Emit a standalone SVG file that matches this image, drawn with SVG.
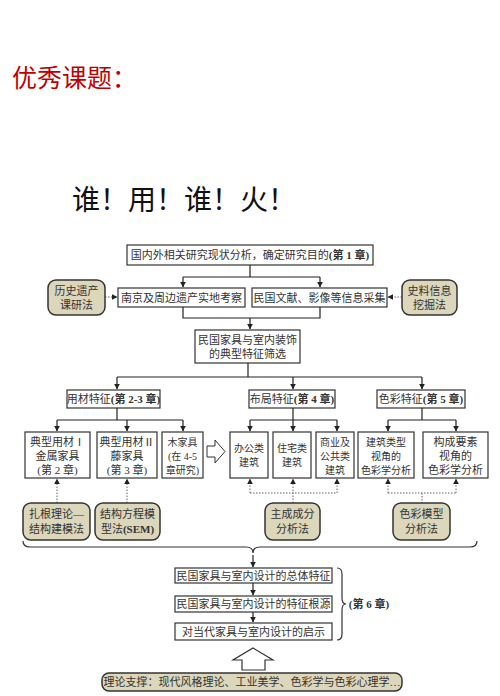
<svg xmlns="http://www.w3.org/2000/svg" width="500" height="696" viewBox="0 0 500 696">
<defs>
<marker id="ah" viewBox="0 0 10 10" refX="9" refY="5" markerWidth="6" markerHeight="6" orient="auto-start-reverse" markerUnits="userSpaceOnUse">
<path d="M0,0 L10,5 L0,10 z" fill="#222"/>
</marker>
<style>
.box{fill:#fff;stroke:#333;stroke-width:1.2}
.rb{fill:#dcd6bb;stroke:#333;stroke-width:1.5}
.ln{fill:none;stroke:#222;stroke-width:1.2}
.dt{fill:none;stroke:#666;stroke-width:1;stroke-dasharray:1.5 1.5}
.t{font-family:"Liberation Serif","Noto Sans CJK SC",serif;font-size:11px;fill:#333;text-anchor:middle}
.s{font-size:10px}
.b{font-weight:bold}
</style>
</defs>
<rect width="500" height="696" fill="#fff"/>
<text x="12" y="87" style="font-family:'Noto Sans CJK SC',sans-serif;font-size:25px;fill:#c00000">优秀课题：</text>
<text x="72" y="210" style="font-family:'Noto Sans CJK SC',sans-serif;font-size:28px;fill:#111">谁！用！谁！火！</text>

<g id="connectors">
<path class="ln" d="M250,265 V277 M183,277 H320" />
<path class="ln" d="M183,277 V287" marker-end="url(#ah)"/>
<path class="ln" d="M320,277 V287" marker-end="url(#ah)"/>
<path class="ln" d="M183,307 V318 H320 V307 M250,318 V329" marker-end="url(#ah)"/>
<path class="dt" d="M105,297 H117" marker-end="url(#ah)"/>
<path class="dt" d="M402,297 H388" marker-end="url(#ah)"/>
<path class="ln" d="M248,363 V377 M117,377 H422"/>
<path class="ln" d="M117,377 V389" marker-end="url(#ah)"/>
<path class="ln" d="M293,377 V389" marker-end="url(#ah)"/>
<path class="ln" d="M422,377 V389" marker-end="url(#ah)"/>
<path class="ln" d="M117,408 V420 M57,420 H183"/>
<path class="ln" d="M57,420 V431" marker-end="url(#ah)"/>
<path class="ln" d="M127,420 V431" marker-end="url(#ah)"/>
<path class="ln" d="M183,420 V431" marker-end="url(#ah)"/>
<path class="ln" d="M293,408 V420 M250,420 H337"/>
<path class="ln" d="M250,420 V431" marker-end="url(#ah)"/>
<path class="ln" d="M293,420 V431" marker-end="url(#ah)"/>
<path class="ln" d="M337,420 V431" marker-end="url(#ah)"/>
<path class="ln" d="M422,408 V420 M388,420 H456"/>
<path class="ln" d="M388,420 V431" marker-end="url(#ah)"/>
<path class="ln" d="M456,420 V431" marker-end="url(#ah)"/>
<path d="M207,446 H215 V440 L225,451.5 L215,463 V457 H207 Z" fill="#fff" stroke="#333" stroke-width="1"/>
<path class="dt" d="M57,503 V479" marker-end="url(#ah)"/>
<path class="dt" d="M127,503 V479" marker-end="url(#ah)"/>
<path class="dt" d="M250,493 V479" marker-end="url(#ah)"/>
<path class="dt" d="M293,503 V479" marker-end="url(#ah)"/>
<path class="dt" d="M337,493 V479" marker-end="url(#ah)"/>
<path class="dt" d="M250,493 H337"/>
<path class="dt" d="M388,493 V479" marker-end="url(#ah)"/>
<path class="dt" d="M456,493 V479" marker-end="url(#ah)"/>
<path class="dt" d="M388,493 H456 M422,493 V503"/>
<path d="M23,541 Q23,547 30,547 H246 Q253,547 253,553 Q253,547 260,547 H470 Q477,547 477,541" fill="none" stroke="#333" stroke-width="1.2"/>
<path class="ln" d="M253,555 V567" marker-end="url(#ah)"/>
<path class="ln" d="M253,583 V595" marker-end="url(#ah)"/>
<path class="ln" d="M253,612 V622" marker-end="url(#ah)"/>
<path d="M337,568 Q342,568 342,574 V598 Q342,604 346,604 Q342,604 342,610 V634 Q342,640 337,640" fill="none" stroke="#333" stroke-width="1.2"/>
<path d="M253,648 L273,660 H265 V670 H242 V660 H233 Z" fill="#fff" stroke="#333" stroke-width="1.2"/>
</g>

<g id="n-top"><rect class="box" x="127" y="245" width="246" height="20"/><text class="t" x="250" y="259">国内外相关研究现状分析，确定研究目的<tspan class="b">(第 1 章)</tspan></text></g>
<g id="n-survey"><rect class="box" x="118" y="288" width="127" height="19"/><text class="t" x="181.5" y="301.5">南京及周边遗产实地考察</text></g>
<g id="n-doc"><rect class="box" x="252" y="288" width="135" height="19"/><text class="t" x="319.5" y="301.5">民国文献、影像等信息采集</text></g>
<g id="m-hist"><rect class="rb" x="48" y="280" width="57" height="35" rx="8"/><text class="t" x="76.5" y="295">历史遗产</text><text class="t" x="76.5" y="309">课研法</text></g>
<g id="m-arch"><rect class="rb" x="402" y="280" width="55" height="35" rx="8"/><text class="t" x="429.5" y="295">史料信息</text><text class="t" x="429.5" y="309">挖掘法</text></g>
<g id="n-screen"><rect class="box" x="195" y="330" width="105" height="33"/><text class="t" x="247.5" y="344">民国家具与室内装饰</text><text class="t" x="247.5" y="358">的典型特征筛选</text></g>

<g id="n-mat"><rect class="box" x="67" y="390" width="93" height="18"/><text class="t" x="113.5" y="403">用材特征<tspan class="b">(第 2-3 章)</tspan></text></g>
<g id="n-lay"><rect class="box" x="249" y="390" width="86" height="18"/><text class="t" x="292" y="403">布局特征<tspan class="b">(第 4 章)</tspan></text></g>
<g id="n-col"><rect class="box" x="377" y="390" width="88" height="18"/><text class="t" x="421" y="403">色彩特征<tspan class="b">(第 5 章)</tspan></text></g>

<g id="n-m1"><rect class="box" x="25" y="432" width="65" height="46"/><text class="t" x="57.5" y="446">典型用材Ⅰ</text><text class="t" x="57.5" y="460">金属家具</text><text class="t" x="57.5" y="474">(第 2 章)</text></g>
<g id="n-m2"><rect class="box" x="97" y="432" width="60" height="46"/><text class="t" x="127" y="446">典型用材Ⅱ</text><text class="t" x="127" y="460">藤家具</text><text class="t" x="127" y="474">(第 3 章)</text></g>
<g id="n-m3"><rect class="box" x="162" y="432" width="41" height="46"/><text class="t s" x="182.5" y="446">木家具</text><text class="t s" x="182.5" y="460">(在 4-5</text><text class="t s" x="182.5" y="474">章研究)</text></g>
<g id="n-l1"><rect class="box" x="230" y="432" width="38" height="46"/><text class="t s" x="249" y="452">办公类</text><text class="t s" x="249" y="466">建筑</text></g>
<g id="n-l2"><rect class="box" x="273" y="432" width="38" height="46"/><text class="t s" x="292" y="452">住宅类</text><text class="t s" x="292" y="466">建筑</text></g>
<g id="n-l3"><rect class="box" x="316" y="432" width="38" height="46"/><text class="t s" x="335" y="446">商业及</text><text class="t s" x="335" y="460">公共类</text><text class="t s" x="335" y="474">建筑</text></g>
<g id="n-c1"><rect class="box" x="358" y="432" width="56" height="46"/><text class="t s" x="386" y="446">建筑类型</text><text class="t s" x="386" y="460">视角的</text><text class="t s" x="386" y="474">色彩学分析</text></g>
<g id="n-c2"><rect class="box" x="423" y="432" width="65" height="46"/><text class="t" x="455.5" y="446">构成要素</text><text class="t" x="455.5" y="460">视角的</text><text class="t" x="455.5" y="474">色彩学分析</text></g>

<g id="m-grounded"><rect class="rb" x="23" y="503" width="67" height="37" rx="8"/><text class="t" x="56.5" y="518">扎根理论—</text><text class="t" x="56.5" y="533">结构建模法</text></g>
<g id="m-sem"><rect class="rb" x="95" y="503" width="65" height="37" rx="8"/><text class="t" x="127.5" y="518">结构方程模</text><text class="t" x="127.5" y="533">型法<tspan class="b">(SEM)</tspan></text></g>
<g id="m-pca"><rect class="rb" x="265" y="503" width="55" height="37" rx="8"/><text class="t" x="292.5" y="518">主成成分</text><text class="t" x="292.5" y="533">分析法</text></g>
<g id="m-color"><rect class="rb" x="393" y="503" width="57" height="37" rx="8"/><text class="t" x="421.5" y="518">色彩模型</text><text class="t" x="421.5" y="533">分析法</text></g>

<g id="n-s1"><rect class="box" x="175" y="568" width="157" height="15"/><text class="t" x="253.5" y="580">民国家具与室内设计的总体特征</text></g>
<g id="n-s2"><rect class="box" x="175" y="596" width="157" height="16"/><text class="t" x="253.5" y="608">民国家具与室内设计的特征根源</text></g>
<g id="n-s3"><rect class="box" x="175" y="623" width="157" height="17"/><text class="t" x="253.5" y="636">对当代家具与室内设计的启示</text></g>
<text class="t b" x="369" y="608">(第 6 章)</text>
<g id="m-theory"><rect class="rb" x="102" y="673" width="300" height="18" rx="7"/><text class="t" x="252" y="686">理论支撑：现代风格理论、工业美学、色彩学与色彩心理学…</text></g>
</svg>
